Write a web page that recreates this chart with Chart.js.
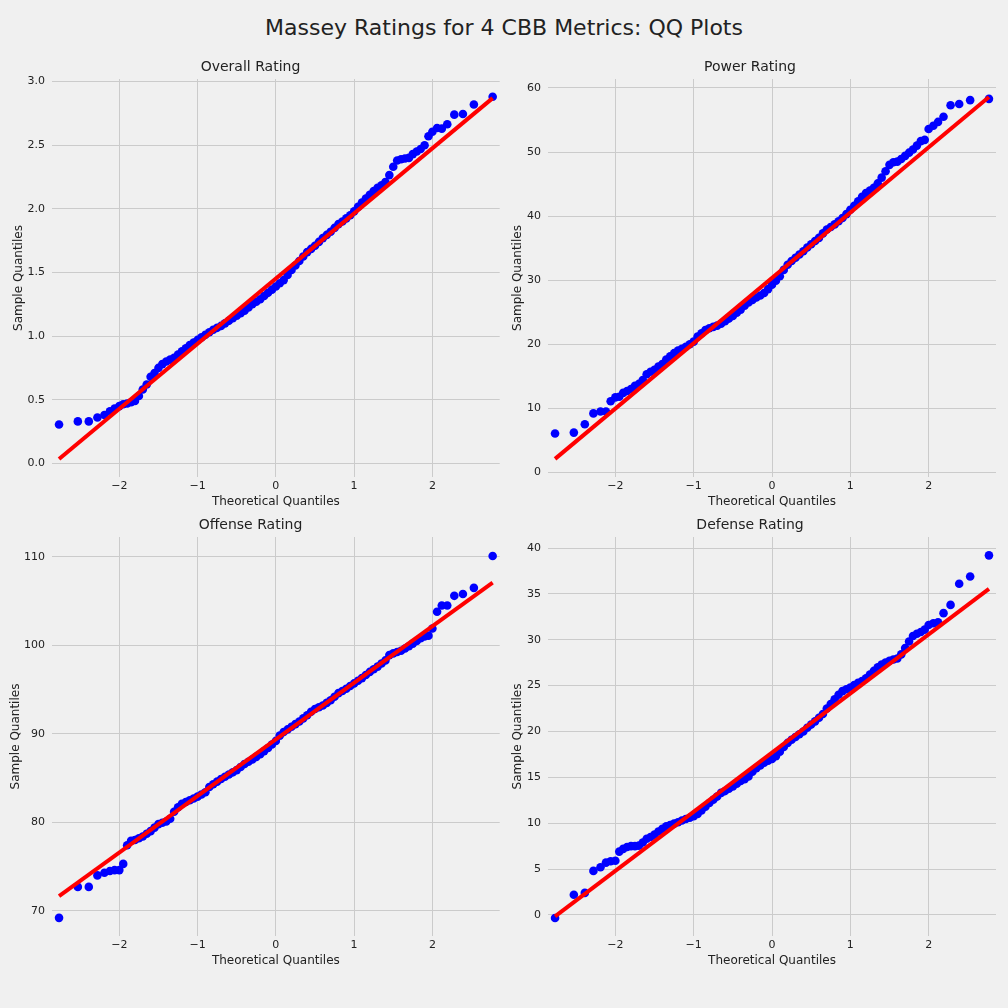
<!DOCTYPE html>
<html>
<head>
<meta charset="utf-8">
<title>Massey Ratings QQ Plots</title>
<script src="https://cdn.jsdelivr.net/npm/chart.js@4.4.0/dist/chart.umd.min.js"></script>
<style>
    html, body { margin: 0; padding: 0; background: #f0f0f0; }
    #fig { position: relative; width: 1008px; height: 1008px; background: #f0f0f0; font-family: 'DejaVu Sans', sans-serif; }
    #suptitle { position: absolute; left: 0; top: 14px; width: 1008px; text-align: center; font-size: 22px; line-height: 28px; color: #222; }
    .panel { position: absolute; }
</style>
</head>
<body>
<div id="fig">
    <div id="suptitle">Massey Ratings for 4 CBB Metrics: QQ Plots</div>
    <div class="panel" style="left:0;top:45px;width:504px;height:475px"><canvas id="overall-chart"></canvas></div>
    <div class="panel" style="left:504px;top:45px;width:504px;height:475px"><canvas id="power-chart"></canvas></div>
    <div class="panel" style="left:0;top:503px;width:504px;height:476px"><canvas id="offense-chart"></canvas></div>
    <div class="panel" style="left:504px;top:503px;width:504px;height:476px"><canvas id="defense-chart"></canvas></div>
</div>
<script>
// ------------------------------------------------------
// @Data
// ------------------------------------------------------

// theoretical quantiles, shared by all four panels
const theoretical = [
    // lower tail
    -2.77, -2.53, -2.39, -2.28, -2.19, -2.12, -2.06, -2.0, -1.95, -1.9,
    // body
    -1.85, -1.8, -1.75, -1.7, -1.65, -1.6, -1.55, -1.5, -1.45, -1.4,
    -1.35, -1.3, -1.25, -1.2, -1.15, -1.1, -1.05, -1.0, -0.95, -0.9,
    -0.85, -0.8, -0.75, -0.7, -0.65, -0.6, -0.55, -0.5, -0.45, -0.4,
    -0.35, -0.3, -0.25, -0.2, -0.15, -0.1, -0.05, 0.0, 0.05, 0.1,
    0.15, 0.2, 0.25, 0.3, 0.35, 0.4, 0.45, 0.5, 0.55, 0.6,
    0.65, 0.7, 0.75, 0.8, 0.85, 0.9, 0.95, 1.0, 1.05, 1.1,
    1.15, 1.2, 1.25, 1.3, 1.35, 1.4, 1.45, 1.5, 1.55, 1.6,
    1.65, 1.7, 1.75, 1.8, 1.85,
    // upper tail
    1.9, 1.95, 2.0, 2.06, 2.12, 2.19, 2.28, 2.39, 2.53, 2.77,
];

const overallSample = [
    0.305, 0.33, 0.33, 0.36, 0.38, 0.41, 0.43, 0.45, 0.465, 0.47,
    0.48, 0.49, 0.53, 0.58, 0.62, 0.68, 0.71, 0.75, 0.78, 0.80,
    0.815, 0.83, 0.855, 0.88, 0.905, 0.93, 0.95, 0.97, 0.99, 1.01,
    1.03, 1.05, 1.065, 1.08, 1.10, 1.12, 1.14, 1.16, 1.18, 1.20,
    1.225, 1.25, 1.27, 1.29, 1.315, 1.34, 1.365, 1.39, 1.415, 1.44,
    1.48, 1.52, 1.555, 1.59, 1.625, 1.66, 1.685, 1.71, 1.74, 1.77,
    1.795, 1.82, 1.85, 1.88, 1.90, 1.925, 1.95, 1.98, 2.015, 2.05,
    2.08, 2.11, 2.14, 2.165, 2.185, 2.21, 2.265, 2.33, 2.38, 2.39,
    2.395, 2.40, 2.43, 2.45, 2.47,
    2.50, 2.57, 2.605, 2.635, 2.63, 2.665, 2.74, 2.745, 2.82, 2.88,
];

const powerSample = [
    6.07, 6.2, 7.5, 9.2, 9.5, 9.5, 11.1, 11.7, 11.8, 12.4,
    12.7, 13.0, 13.5, 13.8, 14.4, 15.3, 15.7, 16.0, 16.5, 16.9,
    17.6, 18.1, 18.6, 19.0, 19.3, 19.6, 20.0, 20.4, 21.2, 21.7,
    22.2, 22.5, 22.7, 22.9, 23.2, 23.6, 24.0, 24.4, 24.9, 25.4,
    26.0, 26.5, 26.9, 27.3, 27.6, 28.0, 28.6, 29.3, 29.9, 30.6,
    31.6, 32.4, 33.0, 33.5, 34.0, 34.5, 35.1, 35.6, 36.1, 36.6,
    37.3, 37.9, 38.3, 38.7, 39.2, 39.7, 40.3, 41.0, 41.6, 42.3,
    43.0, 43.6, 44.0, 44.4, 45.1, 46.0, 47.0, 48.0, 48.4, 48.5,
    48.9, 49.4, 49.9, 50.4, 51.0,
    51.7, 51.9, 53.6, 54.1, 54.7, 55.5, 57.3, 57.5, 58.1, 58.3,
];

const offenseSample = [
    69.2, 72.7, 72.7, 74.0, 74.3, 74.5, 74.6, 74.6, 75.3, 77.4,
    77.9, 78.0, 78.2, 78.4, 78.7, 79.0, 79.4, 79.8, 79.95, 80.1,
    80.4, 81.2, 81.7, 82.1, 82.3, 82.5, 82.7, 82.9, 83.15, 83.4,
    84.0, 84.3, 84.6, 84.9, 85.15, 85.4, 85.65, 85.9, 86.25, 86.6,
    86.85, 87.1, 87.4, 87.7, 88.05, 88.4, 88.8, 89.2, 89.8, 90.2,
    90.5, 90.8, 91.1, 91.4, 91.75, 92.1, 92.5, 92.8, 93.0, 93.2,
    93.5, 93.8, 94.2, 94.6, 94.85, 95.1, 95.4, 95.7, 96.0, 96.3,
    96.65, 97.0, 97.3, 97.6, 97.95, 98.3, 98.9, 99.1, 99.25, 99.4,
    99.65, 99.9, 100.2, 100.5, 100.8,
    101.0, 101.1, 101.9, 103.8, 104.5, 104.5, 105.6, 105.8, 106.5, 110.1,
];

const defenseSample = [
    -0.33, 2.2, 2.4, 4.8, 5.2, 5.7, 5.85, 5.9, 6.9, 7.2,
    7.4, 7.5, 7.5, 7.55, 7.9, 8.3, 8.5, 8.75, 9.1, 9.4,
    9.65, 9.8, 9.95, 10.1, 10.3, 10.45, 10.6, 10.75, 11.0, 11.4,
    11.8, 12.2, 12.55, 12.9, 13.3, 13.5, 13.75, 14.0, 14.3, 14.6,
    14.8, 15.1, 15.6, 16.0, 16.3, 16.6, 16.8, 17.0, 17.3, 17.8,
    18.3, 18.75, 19.1, 19.4, 19.7, 20.0, 20.4, 20.75, 21.1, 21.5,
    21.9, 22.5, 23.0, 23.5, 24.0, 24.4, 24.6, 24.8, 25.05, 25.3,
    25.5, 25.8, 26.2, 26.6, 27.0, 27.3, 27.5, 27.7, 27.85, 27.95,
    28.4, 29.1, 29.8, 30.4, 30.65,
    30.85, 31.1, 31.6, 31.8, 31.9, 32.9, 33.8, 36.1, 36.9, 39.2,
];

// fitted reference line ends
const lineX = [-2.77, 2.77];
const overallLine = [0.035, 2.87];
const powerLine = [2.1, 58.6];
const offenseLine = [71.65, 107.1];
const defenseLine = [-0.15, 35.55];

// tick labels
const xTicks = [-2, -1, 0, 1, 2];
const overallTicks = [0.0, 0.5, 1.0, 1.5, 2.0, 2.5, 3.0];
const powerTicks = [0, 10, 20, 30, 40, 50, 60];
const offenseTicks = [70, 80, 90, 100, 110];
const defenseTicks = [0, 5, 10, 15, 20, 25, 30, 35, 40];

// ------------------------------------------------------
// @Helpers
// ------------------------------------------------------

const FONT = "'DejaVu Sans', sans-serif";
const TEXT = '#222222';
const GRID = '#cbcbcb';

const pairs = (xs, ys) => xs.map((x, i) => ({ x: x, y: ys[i] }));
const minus = v => (v < 0 ? '\u2212' + Math.abs(v) : String(v));

function qqChart(id, cfg) {
    const box = document.getElementById(id);
    if (!box) return;

    new Chart(box.getContext('2d'), {
        type: 'scatter',
        data: {
            datasets: [{
                // drawn last, so it sits over the points
                data            : pairs(lineX, cfg.line),
                showLine        : true,
                borderColor     : '#ff0000',
                borderWidth     : 4,
                pointRadius     : 0,
                borderCapStyle  : 'butt',
            }, {
                data            : pairs(theoretical, cfg.sample),
                backgroundColor : '#0000ff',
                borderWidth     : 0,
                pointRadius     : 4.3,
            }],
        },
        options: {
            responsive: true,
            maintainAspectRatio: false,
            animation: false,
            layout: { padding: { left: 0, right: cfg.padRight, top: 0, bottom: 0 } },
            plugins: {
                legend: { display: false },
                tooltip: { enabled: false },
                title: {
                    display: true,
                    text: cfg.title,
                    color: TEXT,
                    font: { family: FONT, size: 14, weight: 'normal', lineHeight: 1.2 },
                    padding: { top: 13.6, bottom: 3.6 },
                },
            },
            scales: {
                x: {
                    type: 'linear',
                    min: -2.86,
                    max: 2.86,
                    afterBuildTicks: s => { s.ticks = xTicks.map(v => ({ value: v })); },
                    afterFit: s => { s.height = 43; },
                    ticks: {
                        callback: v => minus(v),
                        color: TEXT,
                        padding: 3,
                        maxRotation: 0,
                        autoSkip: false,
                        font: { family: FONT, size: 11 },
                    },
                    grid: { color: GRID, lineWidth: 1, drawTicks: false },
                    border: { display: false },
                    title: {
                        display: true,
                        text: 'Theoretical Quantiles',
                        color: TEXT,
                        font: { family: FONT, size: 12, lineHeight: 1.2 },
                        padding: { top: 0, bottom: 11 },
                    },
                },
                y: {
                    type: 'linear',
                    min: cfg.yMin,
                    max: cfg.yMax,
                    afterBuildTicks: s => { s.ticks = cfg.ticks.map(v => ({ value: v })); },
                    afterFit: s => { s.width = cfg.yWidth; },
                    ticks: {
                        callback: cfg.fmt,
                        color: TEXT,
                        padding: 7,
                        autoSkip: false,
                        font: { family: FONT, size: 11 },
                    },
                    grid: { color: GRID, lineWidth: 1, drawTicks: false },
                    border: { display: false },
                    title: {
                        display: true,
                        text: 'Sample Quantiles',
                        color: TEXT,
                        font: { family: FONT, size: 12, lineHeight: 1.2 },
                        padding: { top: cfg.titlePad, bottom: 0 },
                    },
                },
            },
        },
    });
}

// ------------------------------------------------------
// @Panels
// ------------------------------------------------------

qqChart('overall-chart', {
    title: 'Overall Rating', sample: overallSample, line: overallLine, ticks: overallTicks,
    yMin: -0.107, yMax: 3.02, fmt: v => v.toFixed(1), yWidth: 52, padRight: 3, titlePad: 11.8,
});

qqChart('power-chart', {
    title: 'Power Rating', sample: powerSample, line: powerLine, ticks: powerTicks,
    yMin: -0.73, yMax: 61.4, fmt: v => String(v), yWidth: 44, padRight: 12, titlePad: 7.1,
});

qqChart('offense-chart', {
    title: 'Offense Rating', sample: offenseSample, line: offenseLine, ticks: offenseTicks,
    yMin: 67.15, yMax: 112.25, fmt: v => String(v), yWidth: 52, padRight: 3, titlePad: 8.8,
});

qqChart('defense-chart', {
    title: 'Defense Rating', sample: defenseSample, line: defenseLine, ticks: defenseTicks,
    yMin: -2.3, yMax: 41.2, fmt: v => String(v), yWidth: 44, padRight: 12, titlePad: 7.1,
});
</script>
</body>
</html>
